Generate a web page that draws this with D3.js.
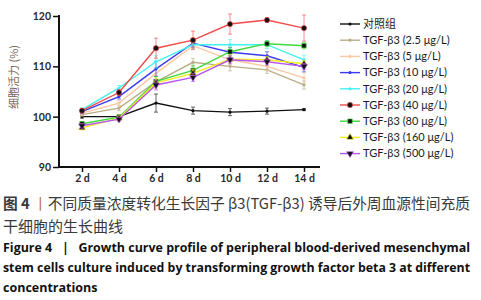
<!DOCTYPE html>
<html>
<head>
<meta charset="utf-8">
<script src="https://cdn.jsdelivr.net/npm/d3@7"></script>
<style>
  body { margin: 0; background: #fff; }
  svg { display: block; }
</style>
</head>
<body>
<svg id="chart" width="481" height="300"></svg>
<script>
// Données
const days = ["2 d", "4 d", "6 d", "8 d", "10 d", "12 d", "14 d"];
const yTicks = [90, 100, 110, 120];

const seriesNames = ["对照组", "TGF-β3 (2.5 μg/L)", "TGF-β3 (5 μg/L)", "TGF-β3 (10 μg/L)", "TGF-β3 (20 μg/L)",
                     "TGF-β3 (40 μg/L)", "TGF-β3 (80 μg/L)", "TGF-β3 (160 μg/L)", "TGF-β3 (500 μg/L)"];

const control = [100.0, 100.0, 102.7, 101.2, 100.9, 101.1, 101.4];
const tgf2_5  = [100.4, 101.7, 106.9, 110.8, 110.0, 109.3, 106.3];
const tgf5    = [100.7, 102.7, 108.6, 114.1, 111.3, 110.0, 107.7];
const tgf10   = [101.0, 104.0, 109.5, 114.6, 112.8, 112.1, 109.8];
const tgf20   = [101.4, 105.7, 110.9, 114.3, 114.3, 114.3, 111.3];
const tgf40   = [101.2, 104.8, 113.6, 115.2, 118.4, 119.2, 117.6];
const tgf80   = [98.6, 99.9, 107.0, 109.2, 112.9, 114.5, 114.1];
const tgf160  = [97.8, 99.7, 106.7, 108.6, 111.4, 111.3, 110.5];
const tgf500  = [98.2, 99.5, 106.3, 107.8, 111.3, 110.9, 110.0];

const errControl = [0.3, 0.4, 1.8, 0.7, 0.7, 0.6, 0.2];
const err2_5  = [0.3, 0.5, 1.2, 0.8, 0.9, 0.7, 0.8];
const err5    = [0.4, 0.5, 1.2, 0.8, 1.0, 0.8, 1.0];
const err10   = [0.4, 0.5, 1.5, 0.8, 1.0, 0.8, 0.9];
const err20   = [0.3, 0.5, 1.2, 0.8, 1.0, 0.8, 0.9];
const err40   = [0.4, 0.6, 2.0, 1.8, 2.0, 0.5, 2.6];
const err80   = [0.4, 0.4, 1.0, 1.0, 0.8, 0.6, 0.6];
const err160  = [0.4, 0.4, 1.0, 0.8, 0.8, 0.6, 0.6];
const err500  = [0.4, 0.4, 1.0, 0.8, 0.8, 0.6, 0.6];

const allValues = [control, tgf2_5, tgf5, tgf10, tgf20, tgf40, tgf80, tgf160, tgf500];
const allErrors = [errControl, err2_5, err5, err10, err20, err40, err80, err160, err500];

const colors = ["#111111", "#b9ae88", "#fbc8a0", "#3a3af2", "#40f2f2", "#f04a4a", "#3ed83a", "#f2ee1c", "#b955ee"];
const markers = ["dot", "dot", "dot", "dot", "dot", "circle", "square", "triangle", "down"];

const svg = d3.select("#chart");

const x = d3.scalePoint().domain(days).range([82, 304]);
const y = d3.scaleLinear().domain([90, 120]).range([167, 16]);

// axes
const yAxis = svg.append("g")
    .attr("transform", "translate(59,0)")
    .call(d3.axisLeft(y).tickValues(yTicks).tickSize(6).tickPadding(2));
yAxis.select(".domain").attr("stroke", "#111").attr("stroke-width", 2).attr("d", "M0,15V168");
yAxis.selectAll(".tick line").attr("stroke", "#111").attr("stroke-width", 1.5);
yAxis.selectAll(".tick text").attr("fill", "#2a2a2a").style("font-family", "Lato, 'Open Sans', sans-serif").style("font-size", "10.5px").style("font-weight", "bold");

const xAxis = svg.append("g")
    .attr("transform", "translate(0,167)")
    .call(d3.axisBottom(x).tickSize(5).tickPadding(3));
xAxis.select(".domain").attr("stroke", "#111").attr("stroke-width", 2).attr("d", "M58,0H320");
xAxis.selectAll(".tick line").attr("stroke", "#111").attr("stroke-width", 1.5);
xAxis.selectAll(".tick text").attr("fill", "#2a2a2a").style("font-family", "Lato, 'Open Sans', sans-serif").style("font-size", "10.5px").style("font-weight", "bold");

svg.append("text")
    .attr("transform", "translate(18,77) rotate(-90)")
    .attr("text-anchor", "middle")
    .style("font-family", "'Noto Sans CJK SC', sans-serif")
    .style("font-size", "11px")
    .attr("fill", "#7a6a5a")
    .text("细胞活力 (%)");

function drawMarker(g, type, color, cx, cy) {
    if (type === "dot") {
        g.append("circle").attr("cx", cx).attr("cy", cy).attr("r", 1.6).attr("fill", color === "#111111" ? "#111" : color);
    } else {
        const symType = { circle: d3.symbolCircle, square: d3.symbolSquare, triangle: d3.symbolTriangle, down: d3.symbolTriangle }[type];
        g.append("path")
            .attr("d", d3.symbol().type(symType).size(type === "circle" ? 22 : 20)())
            .attr("transform", `translate(${cx},${cy})` + (type === "down" ? " rotate(180)" : ""))
            .attr("fill", "#111").attr("stroke", color).attr("stroke-width", 0.6);
    }
}

const line = d3.line().x((d, i) => x(days[i])).y(d => y(d));

allValues.forEach((vals, s) => {
    const g = svg.append("g");
    const col = colors[s];
    // barres d'erreur
    vals.forEach((v, i) => {
        const e = allErrors[s][i];
        const cx = x(days[i]);
        g.append("line").attr("x1", cx).attr("x2", cx).attr("y1", y(v - e)).attr("y2", y(v + e))
            .attr("stroke", col).attr("stroke-width", 0.9).attr("opacity", 0.7);
        [v - e, v + e].forEach(t => g.append("line").attr("x1", cx - 2).attr("x2", cx + 2).attr("y1", y(t)).attr("y2", y(t))
            .attr("stroke", col).attr("stroke-width", 0.9).attr("opacity", 0.7));
    });
    g.append("path").attr("d", line(vals)).attr("fill", "none").attr("stroke", col).attr("stroke-width", 1.4);
    vals.forEach((v, i) => drawMarker(g, markers[s], col, x(days[i]), y(v)));
});

// légende
const legend = svg.append("g");
seriesNames.forEach((name, i) => {
    const ly = 24 + i * 16.2;
    legend.append("line").attr("x1", 340).attr("x2", 360).attr("y1", ly).attr("y2", ly)
        .attr("stroke", colors[i]).attr("stroke-width", 1.4);
    drawMarker(legend, markers[i], colors[i], 350, ly);
    legend.append("text").attr("x", 363).attr("y", ly + 3.8)
        .style("font-family", i === 0 ? "'Noto Sans CJK SC', sans-serif" : "Lato, 'Open Sans', sans-serif")
        .style("font-size", "11px")
        .attr("fill", "#1a1a1a")
        .text(name);
});

// légende de la figure
const cap = svg.append("g").style("font-family", "'Noto Sans CJK SC', sans-serif");
const c1 = cap.append("text").attr("x", 3).attr("y", 208.5).style("font-size", "15px").attr("fill", "#3a3a3a")
    .attr("textLength", 467).attr("lengthAdjust", "spacingAndGlyphs");
c1.append("tspan").style("font-weight", "bold").text("图 4 ");
c1.append("tspan").attr("fill", "#c0783a").text("丨");
c1.append("tspan").text("不同质量浓度转化生长因子 β3(TGF-β3) 诱导后外周血源性间充质");
cap.append("text").attr("x", 3).attr("y", 232).style("font-size", "15px").attr("fill", "#3a3a3a").text("干细胞的生长曲线");

const en = svg.append("g").style("font-family", "'Open Sans', sans-serif").style("font-weight", "bold").style("font-size", "12.5px").attr("fill", "#111");
en.append("text").attr("x", 3).attr("y", 251.5).attr("textLength", 467).attr("lengthAdjust", "spacingAndGlyphs")
    .style("white-space", "pre")
    .text("Figure 4   |   Growth curve profile of peripheral blood-derived mesenchymal");
en.append("text").attr("x", 3).attr("y", 272).attr("textLength", 467).attr("lengthAdjust", "spacingAndGlyphs")
    .text("stem cells culture induced by transforming growth factor beta 3 at different");
en.append("text").attr("x", 3).attr("y", 291.5).text("concentrations");
</script>
</body>
</html>
